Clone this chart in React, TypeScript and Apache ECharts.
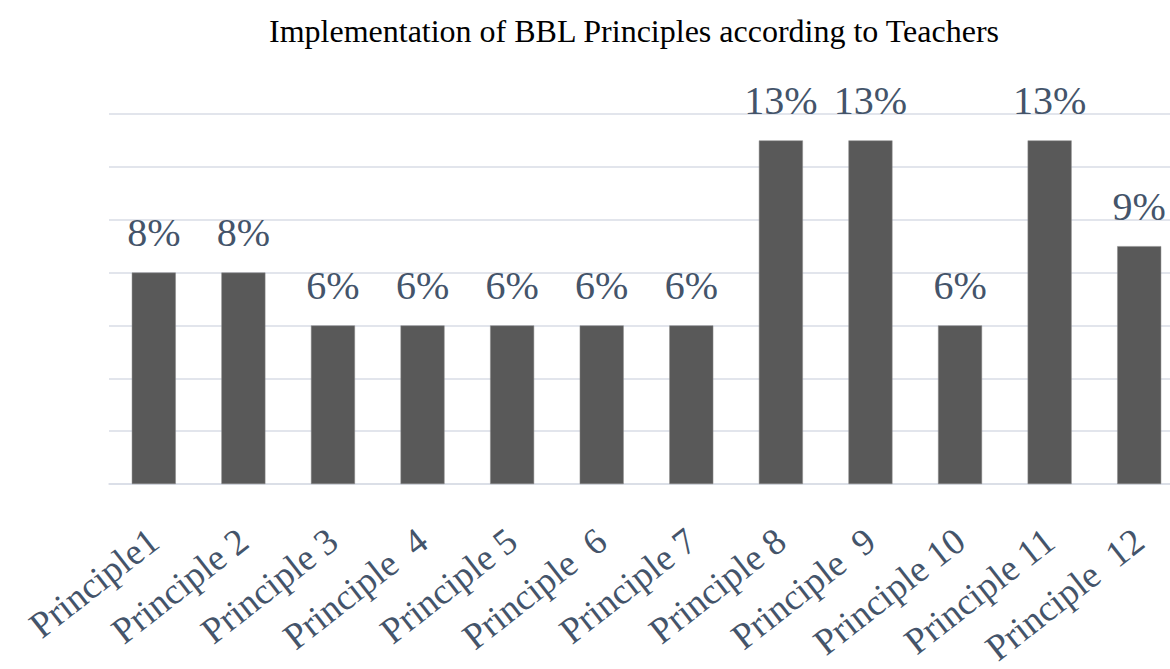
import React, { useEffect, useRef } from "react";
import * as echarts from "echarts";

const categories = [
  "Principle1",
  "Principle 2",
  "Principle 3",
  "Principle  4",
  "Principle 5",
  "Principle  6",
  "Principle 7",
  "Principle 8",
  "Principle  9",
  "Principle 10",
  "Principle 11",
  "Principle  12",
];
const values = [8, 8, 6, 6, 6, 6, 6, 13, 13, 6, 13, 9];
const titleText = "Implementation of BBL Principles according to Teachers";

export default function App() {
  const ref = useRef<HTMLDivElement>(null);
  useEffect(() => {
    if (!ref.current) return;
    const chart = echarts.init(ref.current, undefined, { renderer: "svg" });
    chart.setOption({
      animation: false,
      backgroundColor: "#ffffff",
      title: {
        text: titleText,
        left: 264,
        top: 10,
        textStyle: {
          fontFamily: "Liberation Serif",
          fontSize: 32,
          fontWeight: "normal",
          color: "#000000",
        },
      },
      grid: { left: 109, right: 0, top: 114, bottom: 185, containLabel: false },
      xAxis: {
        type: "category",
        data: categories,
        axisLine: { show: true, lineStyle: { color: "#D9DDE6", width: 1.5 } },
        axisTick: { show: false },
        axisLabel: {
          rotate: 38,
          interval: 0,
          margin: 52,
          fontFamily: "Liberation Serif",
          fontSize: 37,
          color: "#44546A",
        },
      },
      yAxis: {
        type: "value",
        min: 0,
        max: 14,
        interval: 2,
        axisLabel: { show: false },
        axisLine: { show: false },
        axisTick: { show: false },
        splitLine: { lineStyle: { color: "#D9DDE6", width: 1.5 } },
      },
      series: [
        {
          type: "bar",
          data: values,
          barWidth: 44,
          itemStyle: { color: "#595959", borderColor: "#8a8a8a", borderWidth: 0.5 },
          label: {
            show: true,
            position: "top",
            distance: 20,
            formatter: "{c}%",
            fontFamily: "Liberation Serif",
            fontSize: 40,
            color: "#44546A",
          },
        },
      ],
    });
    return () => chart.dispose();
  }, []);
  return (
    <div
      style={{
        position: "absolute",
        left: 0,
        top: 0,
        width: 1170,
        height: 669,
        overflow: "hidden",
        background: "#ffffff",
      }}
    >
      <div ref={ref} style={{ width: 1184, height: 669 }} />
    </div>
  );
}
